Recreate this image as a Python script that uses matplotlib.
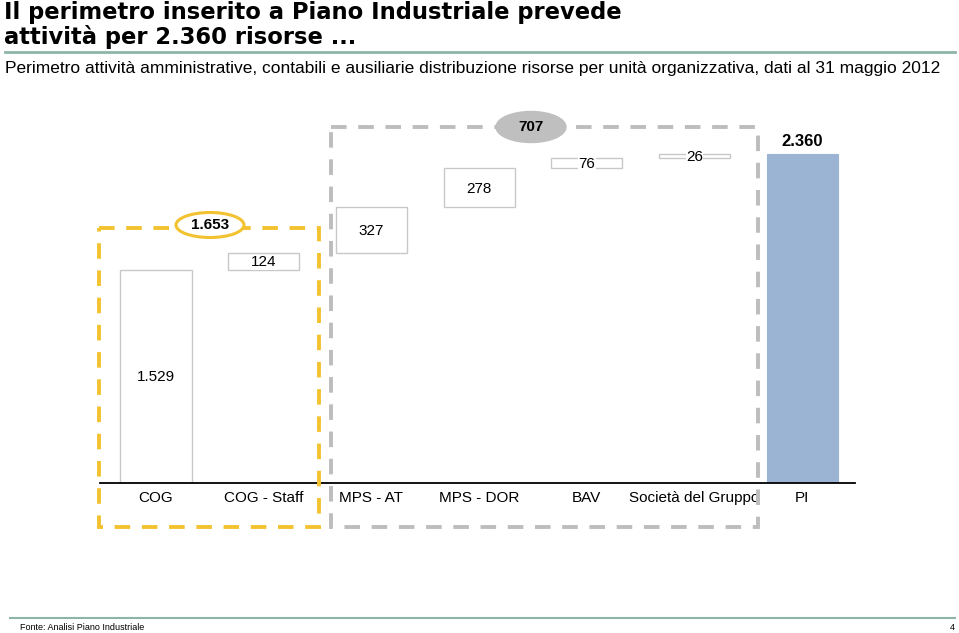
import matplotlib
matplotlib.use("Agg")
import matplotlib.pyplot as plt
from matplotlib.patches import Rectangle, Ellipse

categories = ["COG", "COG - Staff", "MPS - AT", "MPS - DOR", "BAV", "Società del Gruppo", "PI"]
values = [1529, 124, 327, 278, 76, 26, 2360]
is_total = [False, False, False, False, False, False, True]

title_lines = ["Il perimetro inserito a Piano Industriale prevede", "attività per 2.360 risorse ..."]
subtitle = "Perimetro attività amministrative, contabili e ausiliarie distribuzione risorse per unità organizzativa, dati al 31 maggio 2012"
source = "Fonte: Analisi Piano Industriale"

def fmt(v):
    return f"{v:,}".replace(",", ".")

W, H = 959, 633
fig = plt.figure(figsize=(W / 100, H / 100), dpi=100)
plt.rcParams['font.family'] = ['Liberation Sans', 'DejaVu Sans']

# data axes in pixel placement
ax_left, ax_right, ax_base = 100, 855, 483
px_per_unit = 0.1393
ymax = 2600
top_px = ax_base - ymax * px_per_unit
ax = fig.add_axes([ax_left / W, (H - ax_base) / H, (ax_right - ax_left) / W, (ax_base - top_px) / H])
ax.set_xlim(-0.52, 6.49)
ax.set_ylim(0, ymax)
for s in ["top", "right", "left"]:
    ax.spines[s].set_visible(False)
ax.spines["bottom"].set_color("black")
ax.spines["bottom"].set_linewidth(1.3)
ax.set_yticks([])
ax.set_xticks(range(len(categories)))
ax.set_xticklabels(categories, fontsize=11)
ax.tick_params(axis="x", length=0, pad=6)
ax.patch.set_alpha(0)

bottoms = []
run = 0
for v, t in zip(values, is_total):
    if t:
        bottoms.append(0)
    else:
        bottoms.append(run)
        run += v

for i, (v, b, t) in enumerate(zip(values, bottoms, is_total)):
    if t:
        ax.bar(i, v, bottom=b, width=0.66, color="#9BB4D3", edgecolor="#9BB4D3", linewidth=0.8, zorder=2)
        ax.text(i, b + v + 36, fmt(v), ha="center", va="bottom", fontsize=12, fontweight="bold", zorder=5)
    else:
        ax.bar(i, v, bottom=b, width=0.66, color="white", edgecolor="#C8C8C8", linewidth=1.0, zorder=2)
        ax.text(i, b + v / 2 - 6, fmt(v), ha="center", va="center", fontsize=11, zorder=5,
                bbox=dict(boxstyle="square,pad=0.02", facecolor="white", edgecolor="none"))

# overlay in pixel coordinates
ov = fig.add_axes([0, 0, 1, 1])
ov.set_xlim(0, W)
ov.set_ylim(H, 0)
ov.axis("off")
ov.patch.set_alpha(0)

# title and header
ov.text(4, 19, title_lines[0], fontsize=16.3, fontweight="bold", ha="left", va="baseline",
        family=["DejaVu Sans"])
ov.text(4, 44, title_lines[1], fontsize=16.3, fontweight="bold", ha="left", va="baseline",
        family=["DejaVu Sans"])
ov.plot([5, 955], [52, 52], color="#8DB5A6", lw=2)
ov.text(5, 69, subtitle, fontsize=12.5, ha="left", va="center")

# footer
ov.plot([10, 955], [618, 618], color="#8DB5A6", lw=1.5)
ov.text(20, 628, source, fontsize=6.5, ha="left", va="center")
ov.text(955, 627, "4", fontsize=6.5, ha="right", va="center")

# dashed group boxes
sub1 = sum(values[0:2])
sub2 = sum(values[2:6])
ov.add_patch(Rectangle((99, 228), 220, 299, fill=False, edgecolor="#F2C230", lw=2.8,
                       linestyle=(0, (4, 3)), zorder=6))
ov.add_patch(Rectangle((331, 127), 427, 400, fill=False, edgecolor="#BDBDBD", lw=2.8,
                       linestyle=(0, (4, 3)), zorder=6))
ov.add_patch(Ellipse((210, 225), 68, 25, facecolor="white", edgecolor="#F2C230", lw=2.2, zorder=7))
ov.text(210, 225, fmt(sub1), ha="center", va="center", fontsize=11, fontweight="bold", zorder=8)
ov.add_patch(Ellipse((531, 127), 70, 31, facecolor="#BFBFBF", edgecolor="#BFBFBF", lw=1, zorder=7))
ov.text(531, 127, fmt(sub2), ha="center", va="center", fontsize=11, fontweight="bold", zorder=8)

fig.savefig("out.png", dpi=100)
